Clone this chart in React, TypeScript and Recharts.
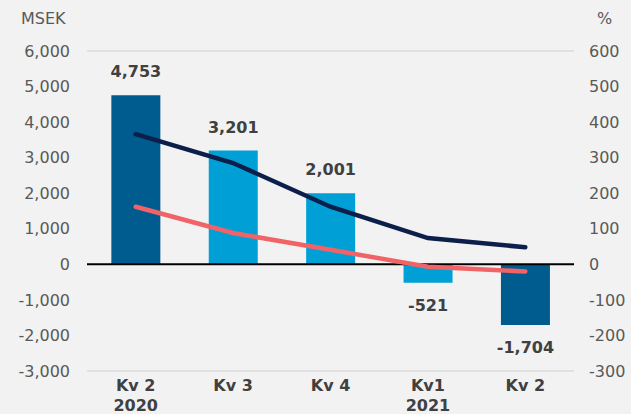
import {
  ComposedChart, Bar, Line, XAxis, YAxis, CartesianGrid,
  ReferenceLine, LabelList, Cell,
} from "recharts";

// Quarters, result in MSEK (bars) and two margin series in % (lines)
const QUARTERS = ["Kv 2", "Kv 3", "Kv 4", "Kv1", "Kv 2"];
const YEARS = ["2020", "", "", "2021", ""];
const RESULT = [4753, 3201, 2001, -521, -1704];
const NAVY_PCT = [366, 285, 162, 74, 48];
const RED_PCT = [162, 88, 41, -7, -20];

const LEFT_TICKS = [-3000, -2000, -1000, 0, 1000, 2000, 3000, 4000, 5000, 6000];
const RIGHT_TICKS = [-300, -200, -100, 0, 100, 200, 300, 400, 500, 600];

const DARK_BAR = "#005b8f";
const LIGHT_BAR = "#00a0d6";
const BAR_COLORS = [DARK_BAR, LIGHT_BAR, LIGHT_BAR, LIGHT_BAR, DARK_BAR];

const FONT = "'DejaVu Sans', sans-serif";
const TICK = { fill: "#595959", fontSize: 16, fontFamily: FONT };

const data = QUARTERS.map((q, i) => ({
  idx: i,
  q,
  year: YEARS[i],
  result: RESULT[i],
  navy: NAVY_PCT[i],
  red: RED_PCT[i],
}));

const fmt = (v: number) => v.toLocaleString("en-US");

// Value label: above positive bars, below negative ones
function BarLabel(props: any) {
  const { x, y, width, height, value } = props;
  const top = Math.min(y, y + height);
  const bottom = Math.max(y, y + height);
  const cx = x + width / 2;
  const ty = value >= 0 ? top - 18 : bottom + 28;
  return (
    <text x={cx} y={ty} textAnchor="middle" fill="#404040"
      fontSize={16} fontWeight={700} fontFamily={FONT}>
      {fmt(value)}
    </text>
  );
}

function QuarterTick(props: any) {
  const { x, y, payload } = props;
  const i = payload.value as number;
  return (
    <g>
      <text x={x} y={y + 12} textAnchor="middle" fill="#404040"
        fontSize={16} fontWeight={700} fontFamily={FONT}>
        {QUARTERS[i]}
      </text>
      {YEARS[i] && (
        <text x={x} y={y + 32} textAnchor="middle" fill="#404040"
          fontSize={16} fontWeight={700} fontFamily={FONT}>
          {YEARS[i]}
        </text>
      )}
    </g>
  );
}

export default function App() {
  return (
    <div style={{ width: 631, height: 414, background: "#f2f2f2", position: "relative" }}>
      <style>{`body{margin:0}`}</style>
      <div style={{ position: "absolute", left: 21, top: 9, font: `16px ${FONT}`, color: "#595959" }}>
        MSEK
      </div>
      <div style={{ position: "absolute", left: 597, top: 9, font: `16px ${FONT}`, color: "#595959" }}>
        %
      </div>
      <ComposedChart width={631} height={414} data={data}
        margin={{ top: 51, right: 0, bottom: 0, left: 0 }} barCategoryGap="25%">
        <CartesianGrid stroke="#cfcfcf" vertical={false} />
        <XAxis dataKey="idx" height={43} tickLine={false} axisLine={false}
          tick={<QuarterTick />} interval={0} />
        <YAxis yAxisId="l" orientation="left" width={87} domain={[-3000, 6000]}
          ticks={LEFT_TICKS} tickFormatter={fmt} tickLine={false} axisLine={false}
          tickMargin={11} tick={TICK} />
        <YAxis yAxisId="r" orientation="right" width={57} domain={[-300, 600]}
          ticks={RIGHT_TICKS} tickLine={false} axisLine={false}
          tickMargin={9} tick={{ ...TICK, textAnchor: "start" }} />
        <Bar yAxisId="l" dataKey="result" isAnimationActive={false}>
          {RESULT.map((_, i) => <Cell key={i} fill={BAR_COLORS[i]} />)}
          <LabelList dataKey="result" content={<BarLabel />} />
        </Bar>
        <ReferenceLine yAxisId="l" y={0} stroke="#000000" strokeWidth={2} />
        <Line yAxisId="r" dataKey="navy" type="linear" stroke="#0c1f4a" strokeWidth={4.5}
          strokeLinecap="round" dot={false} isAnimationActive={false} />
        <Line yAxisId="r" dataKey="red" type="linear" stroke="#f06467" strokeWidth={4.5}
          strokeLinecap="round" dot={false} isAnimationActive={false} />
      </ComposedChart>
    </div>
  );
}
